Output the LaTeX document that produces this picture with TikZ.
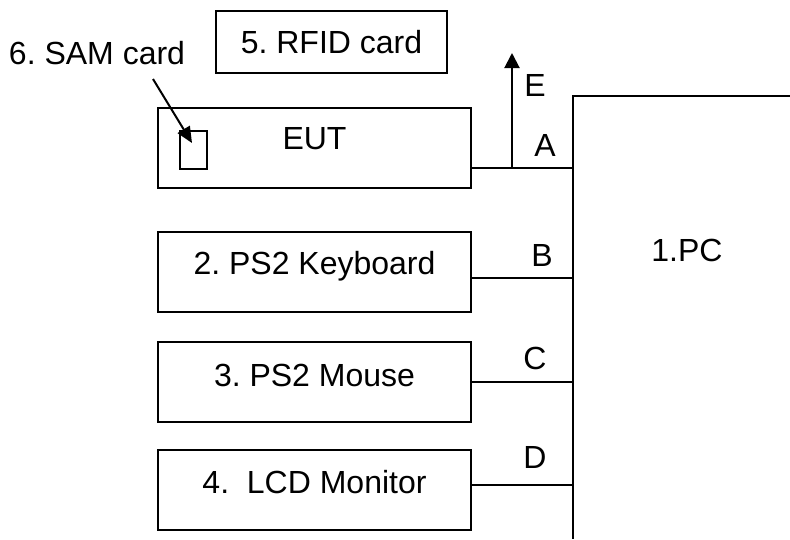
\documentclass[tikz,border=0pt]{standalone}
\usepackage{fontspec}
\setmainfont{Liberation Sans}
\usetikzlibrary{arrows.meta}
\frenchspacing

\tikzset{
  unit/.style={draw, line width=2pt, minimum width=313pt, minimum height=80pt,
    text height=23pt, text depth=16pt, inner sep=0pt},
  wire/.style={line width=2pt},
  tag/.style={inner sep=0pt},
}

\begin{document}
\begin{tikzpicture}[x=1pt,y=-1pt,font=\fontsize{32}{38}\selectfont]
\useasboundingbox (0,0) rectangle (790,539);

% devices on the left
\node[unit, line width=2.5pt, text depth=20pt] (eut) at (314.5,148) {EUT};
\node[unit, text depth=17pt] (kbd) at (314.5,271.5) {2. PS2 Keyboard};
\node[unit, text depth=14pt] (mouse) at (314.5,382) {3. PS2 Mouse};
\node[unit] (lcd) at (314.5,490) {4.~~LCD Monitor};
\node[draw, line width=2pt, minimum width=231pt, minimum height=62pt,
  text height=23pt, text depth=0pt, inner sep=0pt] (rfid) at (331.5,42) {5. RFID card};
\node[draw, line width=2pt, minimum width=27pt, minimum height=38pt, inner sep=0pt] (sam) at (193.5,150) {};
\node[tag] (samlabel) at (97,53) {6. SAM card};

% the PC
\coordinate (pctop) at (573,96);
\coordinate (pcright) at (790,96);
\coordinate (pcbottom) at (573,539);
\draw[wire] (pcright) -- (pctop) -- (pcbottom);
\node[tag] (pc) at (687,250) {1.PC};

% cables
\coordinate (pa) at (573,168);
\coordinate (pb) at (573,278);
\coordinate (pc) at (573,382);
\coordinate (pd) at (573,485);
\draw[wire] (eut.east |- pa) -- (pa);
\draw[wire] (kbd.east |- pb) -- (pb);
\draw[wire] (mouse.east |- pc) -- (pc);
\draw[wire] (lcd.east |- pd) -- (pd);
\node[tag] (la) at (545,145) {A};
\node[tag] (lb) at (542,255) {B};
\node[tag] (lc) at (535,358) {C};
\node[tag] (ld) at (535,457) {D};

% E and the SAM pointer
\coordinate (ebase) at (512,168);
\coordinate (etip) at (512,53);
\draw[wire, -{Triangle[length=15pt,width=15pt]}] (ebase) -- (etip);
\node[tag] (le) at (535,85) {E};
\coordinate (samfrom) at (153,79);
\coordinate (samtip) at (192,143);
\draw[wire, -{Triangle[length=16pt,width=14pt]}] (samfrom) -- (samtip);
\end{tikzpicture}
\end{document}
